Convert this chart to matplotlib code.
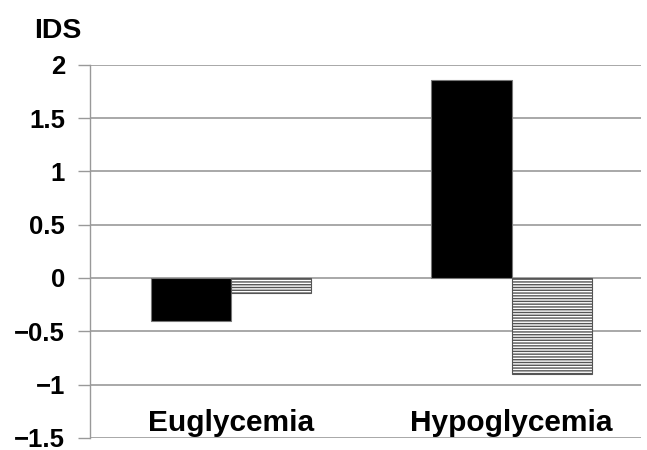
import numpy as np
import matplotlib.pyplot as plt

# Data
categories = ['Euglycemia', 'Hypoglycemia']
solid_values = [-0.40, 1.86]
hatched_values = [-0.14, -0.90]
y_ticks = [2, 1.5, 1, 0.5, 0, -0.5, -1, -1.5]

plt.rcParams['font.family'] = ['Liberation Sans', 'DejaVu Sans']
plt.rcParams['hatch.linewidth'] = 1.0

fig = plt.figure(figsize=(6.47, 4.5), dpi=100)
ax = fig.add_axes([0.139, 0.027, 0.851, 0.829])

x = np.arange(len(categories))
w = 0.286
ax.bar(x - w / 2, solid_values, w, color='black', edgecolor='#777777', linewidth=0.8, zorder=3)
ax.bar(x + w / 2, hatched_values, w, color='white', edgecolor='#555555', hatch='------',
       linewidth=0.8, zorder=3)

ax.set_ylim(-1.5, 2)
ax.set_xlim(-0.504, 1.46)
ax.set_yticks(y_ticks)
ax.set_yticklabels([('\u2212' + f'{abs(v):g}') if v < 0 else f'{v:g}' for v in y_ticks],
                   fontsize=18.5, fontweight='bold')
ax.set_xticks([])
ax.yaxis.grid(True, color='#999999', linewidth=1.2, zorder=0)
ax.tick_params(axis='y', length=9, width=1.0, color='#999999', pad=9)

for s in ['top', 'right', 'bottom']:
    ax.spines[s].set_visible(False)
ax.spines['left'].set_color('#999999')
ax.spines['left'].set_linewidth(1.0)

for xi, name in zip(x, categories):
    ax.text(xi, -1.435, name, ha='center', va='baseline', fontsize=21.5, fontweight='bold')

fig.text(0.09, 0.916, 'IDS', ha='center', va='baseline', fontsize=20.5, fontweight='bold')

fig.savefig('out.png', dpi=100)
